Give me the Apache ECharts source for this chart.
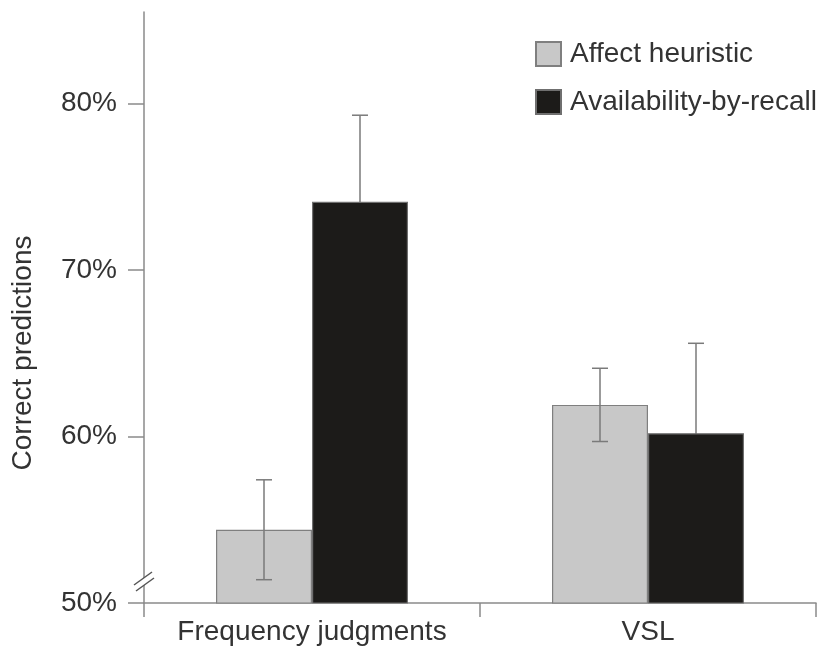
<!DOCTYPE html>
<html>
<head>
<meta charset="utf-8">
<script src="https://cdn.jsdelivr.net/npm/echarts@6/dist/echarts.min.js"></script>
<style>
  html, body { margin: 0; padding: 0; background: #fff; }
  #chart { width: 819px; height: 647px; }
</style>
</head>
<body>
<div id="chart"></div>
<script>
// data (percent correct)
var categories = ['Frequency judgments', 'VSL'];
var seriesNames = ['Affect heuristic', 'Availability-by-recall'];
var affectValues = [54.4, 61.9];
var affectErrors = [3.0, 2.2];
var recallValues = [74.1, 60.2];
var recallErrors = [5.2, 5.4];
var yTicks = [50, 60, 70, 80];

var FONT = '"Liberation Sans", Arial, sans-serif';
var AXIS = '#8a8a8a';
var TEXT = '#333333';
var BAR_W = 96;

var chart = echarts.init(document.getElementById('chart'));

// error bar drawn at bar centre, offset left/right of category centre
function errorBars(offset) {
  return function (params, api) {
    var i = api.value(0);
    var hi = api.coord([i, api.value(1) + api.value(2)]);
    var lo = api.coord([i, api.value(1) - api.value(2)]);
    var x = hi[0] + offset;
    var cap = 8;
    var st = { stroke: '#7a7a7a', lineWidth: 1.5 };
    return {
      type: 'group',
      children: [
        { type: 'line', shape: { x1: x, y1: hi[1], x2: x, y2: lo[1] }, style: st },
        { type: 'line', shape: { x1: x - cap, y1: hi[1], x2: x + cap, y2: hi[1] }, style: st },
        { type: 'line', shape: { x1: x - cap, y1: lo[1], x2: x + cap, y2: lo[1] }, style: st }
      ]
    };
  };
}

function errData(values, errors) {
  return values.map(function (v, i) { return [i, v, errors[i]]; });
}

var option = {
  backgroundColor: '#ffffff',
  animation: false,
  grid: { left: 144, right: 3, top: 12, bottom: 44 },
  legend: {
    data: seriesNames,
    orient: 'vertical',
    left: 530,
    top: 35,
    icon: 'rect',
    itemWidth: 25,
    itemHeight: 24,
    itemGap: 20,
    textStyle: { fontFamily: FONT, fontSize: 28, color: TEXT, padding: [0, 0, 0, 4] }
  },
  xAxis: {
    type: 'category',
    data: categories,
    axisLine: { lineStyle: { color: AXIS, width: 1.5 } },
    axisTick: { show: true, interval: 0, length: 14, lineStyle: { color: AXIS, width: 1.5 } },
    axisLabel: { interval: 0, fontFamily: FONT, fontSize: 28, color: TEXT, margin: 15 }
  },
  yAxis: {
    type: 'value',
    min: 50,
    max: 85.5,
    splitLine: { show: false },
    axisLine: { show: true, lineStyle: { color: AXIS, width: 1.5 } },
    axisTick: { show: true, length: 16, customValues: yTicks, lineStyle: { color: AXIS, width: 1.5 } },
    axisLabel: {
      fontFamily: FONT, fontSize: 28, color: TEXT, margin: 27,
      customValues: yTicks,
      formatter: function (v) { return v + '%'; }
    }
  },
  graphic: [
    {
      type: 'text', x: 23, y: 353, rotation: Math.PI / 2,
      style: {
        text: 'Correct predictions', fontFamily: FONT, fontSize: 28, fill: TEXT,
        align: 'center', verticalAlign: 'middle'
      }
    },
    // axis break marks
    { type: 'polygon', shape: { points: [[134, 585], [152, 572], [154, 578], [136, 591]] }, style: { fill: '#ffffff' }, z: 100 },
    { type: 'line', shape: { x1: 134, y1: 585, x2: 152, y2: 572 }, style: { stroke: '#555', lineWidth: 1.5 }, z: 101 },
    { type: 'line', shape: { x1: 136, y1: 591, x2: 154, y2: 578 }, style: { stroke: '#555', lineWidth: 1.5 }, z: 101 }
  ],
  series: [
    {
      name: seriesNames[0],
      type: 'bar',
      data: affectValues,
      barWidth: BAR_W,
      barGap: '0%',
      z: 2,
      itemStyle: { color: '#c8c8c8', borderColor: '#7f7f7f', borderWidth: 1.2 }
    },
    {
      name: seriesNames[1],
      type: 'bar',
      data: recallValues,
      barWidth: BAR_W,
      barGap: '0%',
      z: 2,
      itemStyle: { color: '#1c1b19', borderColor: '#6f6f6f', borderWidth: 1.2 }
    },
    {
      type: 'custom',
      name: 'affect-err',
      data: errData(affectValues, affectErrors),
      renderItem: errorBars(-BAR_W / 2),
      z: 3,
      silent: true
    },
    {
      type: 'custom',
      name: 'recall-err',
      data: errData(recallValues, recallErrors),
      renderItem: errorBars(BAR_W / 2),
      z: 1,
      silent: true
    }
  ]
};

chart.setOption(option);
</script>
</body>
</html>
